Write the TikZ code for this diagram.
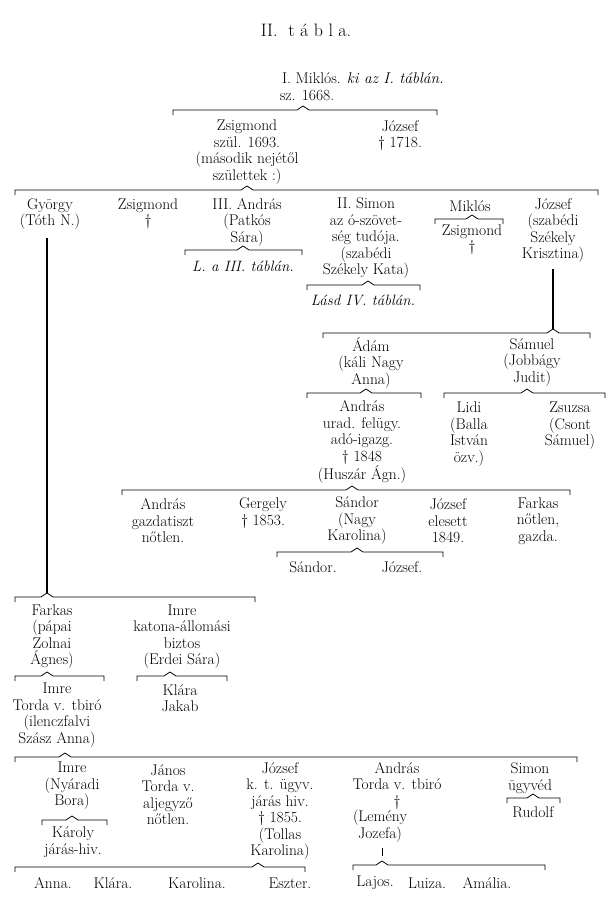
\documentclass[tikz,border=0pt]{standalone}
\usepackage{fontspec}
\begin{document}
\begin{tikzpicture}[x={(1pt,0)},y={(0,-1pt)},
  pers/.style={font=\fontsize{15.5}{16.5}\selectfont, align=center, inner sep=0pt},
  note/.style={font=\fontsize{15}{16.5}\selectfont\itshape, align=center, inner sep=0pt},
  titlestyle/.style={font=\fontsize{18}{20}\selectfont, inner sep=0pt},
  famline/.style={line width=0.8pt, line join=miter},
  stem/.style={line width=1.2pt}]
\newcommand\famb[5]{%
  \coordinate (#1) at (#4,#5-4);
  \draw[famline] (#2,#5+5) -- (#2,#5) -- (#4-6,#5) -- (#1) -- (#4+6,#5) -- (#3,#5) -- (#3,#5+5);}
\useasboundingbox (0,0) rectangle (613,900);
\fill[white] (0,0) rectangle (613,900);

\node[titlestyle] (title) at (306,30) {II.\ \ t\ á\ b\ l\ a.};

\node[pers] (mik1) at (363,78) {I. Miklós. \textit{ki az I. táblán.}};
\node[pers] (mik2) at (307,95) {sz. 1668.};
\famb{b1}{173}{437}{303}{110}
\node[pers] (zsig1) at (247,152) {Zsigmond\\szül. 1693.\\(második nejétől\\születtek :)};
\node[pers] (joz1) at (400,135.5) {József\\\textdagger\ 1718.};
\famb{b2}{15}{598}{247}{190}

% row 3
\node[pers] (gyorgy) at (50,214) {György\\(Tóth N.)};
\node[pers] (zsig2) at (148,214) {Zsigmond\\\textdagger};
\node[pers] (andras3) at (247,222) {III. András\\(Patkós\\Sára)};
\famb{b3}{185}{302}{243}{250}
\node[note] (lIII) at (243,266) {L. a III. táblán.};
\node[pers] (simon3) at (366,238.5) {II. Simon\\az ó-szövet-\\ség tudója.\\(szabédi\\Székely Kata)};
\famb{b4}{307}{420}{368}{285}
\node[note] (lIV) at (363,300) {Lásd IV. táblán.};
\node[pers] (mik3) at (470,206) {Miklós};
\famb{b5}{435}{503}{472}{219}
\node[pers] (zsig3) at (472,240) {Zsigmond\\\textdagger};
\node[pers] (joz3) at (553,230.5) {József\\(szabédi\\Székely\\Krisztina)};

\famb{bJo}{323}{590}{553}{333}
\draw[stem] (bJo |- joz3.south) ++(0,6) -- (bJo);

% row 4
\node[pers] (adam) at (371,362.5) {Ádám\\(káli Nagy\\Anna)};
\node[pers] (samuel) at (532,362.5) {Sámuel\\(Jobbágy\\Judit)};
\famb{bAd}{307}{421}{366}{393}
\famb{bSa}{444}{605}{527}{393}
\node[pers] (andras4) at (362,442) {András\\urad. felügy.\\adó-igazg.\\\textdagger\ 1848\\(Huszár Ágn.)};
\node[pers] (lidi) at (469,434) {Lidi\\(Balla\\István\\özv.)};
\node[pers] (zsuzsa) at (570,426) {Zsuzsa\\(Csont\\Sámuel)};

% row 5
\famb{bAn}{122}{570}{352}{490}
\node[pers] (andras5) at (163,521) {András\\gazdatiszt\\nőtlen.};
\node[pers] (gergely) at (263,513) {Gergely\\\textdagger\ 1853.};
\node[pers] (sandor5) at (357,521) {Sándor\\(Nagy\\Karolina)};
\node[pers] (joz5) at (448,521) {József\\elesett\\1849.};
\node[pers] (farkas5) at (538,521) {Farkas\\nőtlen,\\gazda.};
\famb{bSn}{277}{443}{357}{552}
\node[pers] (sandor6) at (313,567) {Sándor.};
\node[pers] (joz6) at (402,567) {József.};

% György's line
\famb{bGy}{15}{255}{47}{597}
\draw[stem] (bGy |- gyorgy.south) ++(0,8) -- (bGy);

% row 6
\node[pers] (farkas6) at (52,636.5) {Farkas\\(pápai\\Zolnai\\Ágnes)};
\node[pers] (imre6) at (182,636.5) {Imre\\katona-állomási\\biztos\\(Erdei Sára)};
\famb{bFa}{15}{104}{47}{676}
\famb{bIm}{137}{227}{170}{676}
\node[pers] (imre7) at (57,715) {Imre\\Torda v. tbiró\\(ilenczfalvi\\Szász Anna)};
\node[pers] (klara7) at (180,698) {Klára\\Jakab};

% row 8
\famb{bIr}{15}{577}{65}{757}
\node[pers] (imre8) at (72,786) {Imre\\(Nyáradi\\Bora)};
\famb{bNy}{42}{107}{72}{820}
\node[pers] (karoly) at (73,842) {Károly\\járás-hiv.};
\node[pers] (janos) at (168,794.75) {János\\Torda v.\\aljegyző\\nőtlen.};
\node[pers] (joz8) at (280,811) {József\\k. t. ügyv.\\járás hiv.\\\textdagger\ 1855.\\(Tollas\\Karolina)};
\famb{bTo}{15}{305}{258}{867}
\node[pers] (anna) at (53,883) {Anna.};
\node[pers] (klara9) at (113,883) {Klára.};
\node[pers] (karolina) at (197,883) {Karolina.};
\node[pers] (eszter) at (290,883) {Eszter.};

\node[pers] (andras8) at (397,786) {András\\Torda v. tbiró\\\textdagger};
\node[pers] (lemeny) at (380,826) {(Lemény\\Jozefa)};
\famb{bLa}{353}{545}{382}{865}
\draw[famline] (bLa |- lemeny.south) ++(0,6) -- ++(0,8);
\node[pers] (lajos) at (375,883) {Lajos.};
\node[pers] (luiza) at (427,883) {Luiza.};
\node[pers] (amalia) at (487,883) {Amália.};

\node[pers] (simon8) at (530,778) {Simon\\ügyvéd};
\famb{bSi}{507}{560}{533}{798}
\node[pers] (rudolf) at (533,812) {Rudolf};
\end{tikzpicture}
\end{document}
